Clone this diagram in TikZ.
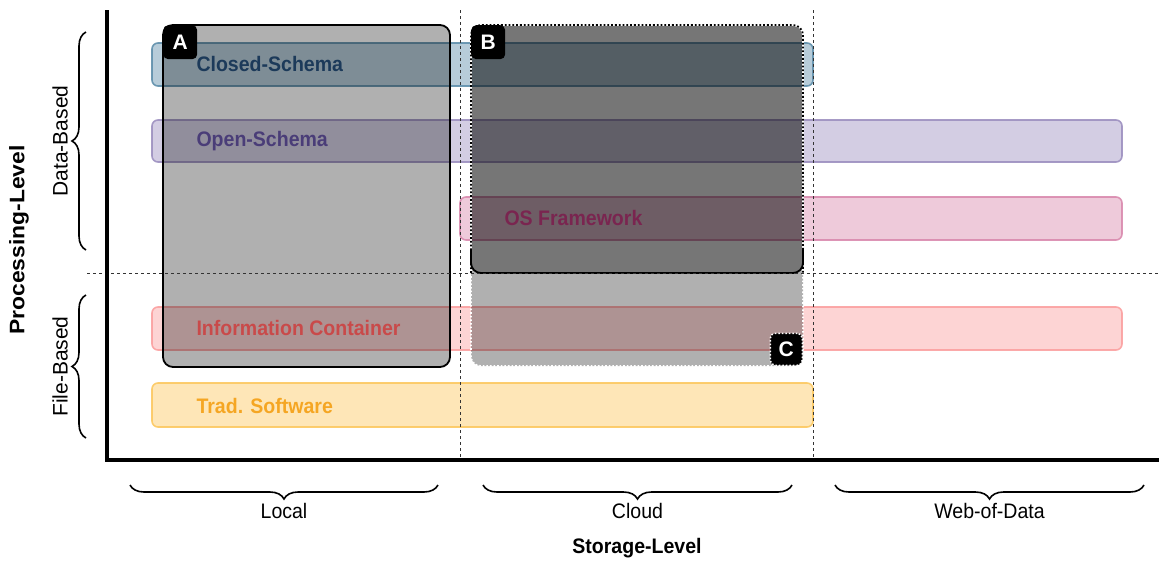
\documentclass[tikz,border=0pt]{standalone}
\usepackage{fontspec}
\setmainfont{Liberation Sans}
\usepackage{tikz}
\usetikzlibrary{%
   positioning,%
   decorations.pathreplacing%
}
\definecolor{closedc}{HTML}{5F8FAB}
\definecolor{closedt}{HTML}{1C3A5A}
\definecolor{openc}{HTML}{9D90C0}
\definecolor{opent}{HTML}{4A3D78}
\definecolor{osc}{HTML}{D98AAE}
\definecolor{ost}{HTML}{7A2550}
\definecolor{infoc}{HTML}{FBA0A0}
\definecolor{infot}{HTML}{C94A4A}
\definecolor{tradc}{HTML}{FCC860}
\definecolor{tradt}{HTML}{F5A623}
\newcommand{\narrowtext}[1]{\scalebox{0.93}[1]{#1}}
\newcommand{\longtext}[1]{\scalebox{1.09}[1]{#1}}

\begin{document}
\begin{tikzpicture}[x=1pt,y=-1pt,
	band/.style={
	rounded corners=6pt,
	line width=1.6pt,
	fill opacity=0.45,
	draw opacity=0.9
	},bandtext/.style={
	anchor=west,
	font=\fontsize{21}{23}\selectfont\bfseries
	},area/.style={
	rounded corners=10pt,
	fill=black,
	fill opacity=0.31
	},tag/.style={
	rectangle,rounded corners=5pt,
	fill=black,text=white,
	minimum size=34pt,inner sep=0pt,
	font=\fontsize{21}{23}\selectfont\bfseries
	},guide/.style={
	line width=0.8pt,dash pattern=on 3pt off 3pt,black!80
	},axislabel/.style={
	font=\fontsize{21}{23}\selectfont
	},axistitle/.style={
	font=\fontsize{21}{23}\selectfont\bfseries
	},grp/.style={
	line width=1.6pt,decorate,
	decoration={brace,amplitude=14pt}
	}
]
\useasboundingbox (0,0) rectangle (1159,560);

% bands
\path[band,fill=closedc,draw=closedc] (152,43) rectangle (813,86);
\path[band,fill=openc,draw=openc] (152,120) rectangle (1122,162);
\path[band,fill=osc,draw=osc] (460,197) rectangle (1122,240);
\path[band,fill=infoc,draw=infoc] (152,307) rectangle (1122,350);
\path[band,fill=tradc,draw=tradc] (152,383) rectangle (813,427);

% storage areas
\path[area] (163,25) rectangle (450,367);
\path[area] (471,25) rectangle (803,366);
\path[area,fill opacity=0.33] (471,25) rectangle (803,273);

\node[bandtext,text=closedt] (closed) at (193,64) {\narrowtext{Closed-Schema}};
\node[bandtext,text=opent] (open) at (193,141) {\narrowtext{Open-Schema}};
\node[bandtext,text=ost] (osfw) at (501,218) {\narrowtext{OS Framework}};
\node[bandtext,text=infot] (info) at (193,328) {\narrowtext{Information Container}};
\node[bandtext,text=tradt] (trad) at (193,406) {\narrowtext{Trad. Software}};

% borders of the areas
\draw[line width=1.8pt,rounded corners=10pt] (163,25) rectangle (450,367);
\draw[white,line width=1.6pt,dotted,rounded corners=10pt] (471,25) rectangle (803,366);
\draw[white,line width=1.8pt,rounded corners=10pt] (471,273) -- (471,25) -- (803,25) -- (803,273);
\draw[line width=1.8pt,dotted,rounded corners=10pt] (471,273) -- (471,25) -- (803,25) -- (803,273);
\draw[line width=1.8pt,rounded corners=10pt] (471,250) -- (471,273) -- (803,273) -- (803,250);

\node[tag,anchor=north west] (tagA) at (163,25) {A};
\node[tag,anchor=north west] (tagB) at (471,25) {B};
\node[tag,anchor=south east,minimum size=32pt,draw=white,dotted,line width=1.5pt] (tagC) at (803,366) {C};

% guides
\draw[guide] (87,273) -- (1159,273);
\draw[guide] (460,10) -- (460,460);
\draw[guide] (813,10) -- (813,460);

% axes
\draw[line width=4pt] (107,10) -- (107,460) -- (1159,460);

% processing level
\draw[grp] (86,250) -- (86,32) node[midway,left=14pt,axislabel,rotate=90,anchor=south] (data) {Data-Based};
\draw[grp] (86,438) -- (86,295) node[midway,left=14pt,axislabel,rotate=90,anchor=south] (file) {File-Based};
\node[axistitle,rotate=90] (proc) at (19,240) {\longtext{Processing-Level}};

% storage level
\draw[grp] (438,485) -- (130,485) node[midway,below=14pt,axislabel] (local) {\narrowtext{Local}};
\draw[grp] (792,485) -- (483,485) node[midway,below=14pt,axislabel] (cloud) {\narrowtext{Cloud}};
\draw[grp] (1144,485) -- (835,485) node[midway,below=14pt,axislabel] (web) {\narrowtext{Web-of-Data}};
\node[axistitle] (stor) at (637,548) {\narrowtext{Storage-Level}};

\end{tikzpicture}
\end{document}
